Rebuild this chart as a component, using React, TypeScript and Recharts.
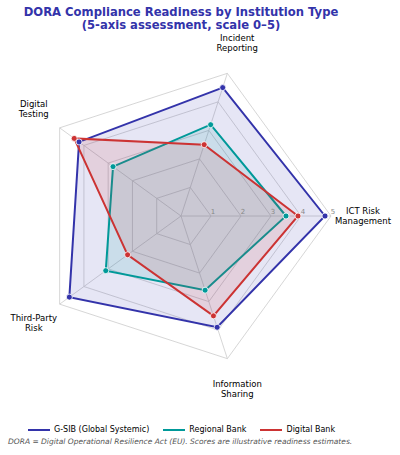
import React from 'react';
import { RadarChart, Radar, PolarGrid, PolarAngleAxis, PolarRadiusAxis } from 'recharts';

const AXES = ['ICT Risk\nManagement', 'Incident\nReporting', 'Digital\nTesting', 'Third-Party\nRisk', 'Information\nSharing'];
const GSIB = [4.8, 4.5, 4.2, 4.6, 3.9];
const REGIONAL = [3.5, 3.2, 2.8, 3.1, 2.6];
const DIGITAL = [3.9, 2.5, 4.4, 2.2, 3.5];
const RADIUS_TICKS = [1, 2, 3, 4, 5];

const SERIES = [
  { key: 'gsib', name: 'G-SIB (Global Systemic)', color: '#3333AA' },
  { key: 'regional', name: 'Regional Bank', color: '#009999' },
  { key: 'digital', name: 'Digital Bank', color: '#CC3333' },
];

const data = AXES.map((axis, i) => ({
  axis,
  gsib: GSIB[i],
  regional: REGIONAL[i],
  digital: DIGITAL[i],
}));

const CX = 181;
const CY = 216;
const FONT = '"DejaVu Sans", sans-serif';
// the radar puts category i at startAngle + 72 * (i + 1) on a full circle,
// so start at -72 to get the first axis pointing east
const START = -72;
const STEP = 360 / AXES.length;

const AngleTick = (props: any) => {
  const { payload } = props;
  const idx = AXES.indexOf(payload.value);
  const a = ((START + STEP * (idx + 1)) * Math.PI) / 180;
  const x = CX + 182 * Math.cos(a);
  const y = CY - 182 * Math.sin(a);
  const lines = String(payload.value).split('\n');
  return (
    <text x={x} y={y} textAnchor="middle" fontSize={8.5} fontFamily={FONT} fill="#000">
      {lines.map((l, i) => (
        <tspan key={i} x={x} y={y + (i - (lines.length - 1) / 2) * 10.5 + 3}>{l}</tspan>
      ))}
    </text>
  );
};

const RadiusTick = (props: any) => {
  const { x, y, payload } = props;
  return (
    <text x={x + 2} y={y - 2} textAnchor="middle" fontSize={7} fontFamily={FONT} fill="#888">
      {payload.value}
    </text>
  );
};

export default function App() {
  return (
    <div style={{ position: 'absolute', left: 0, top: 0, width: 400, height: 455, background: '#fff', fontFamily: FONT }}>
      <div style={{ position: 'absolute', top: 6, left: 0, width: 362, textAlign: 'center', color: '#3333AA', fontWeight: 'bold', fontSize: 11.6, lineHeight: '13px' }}>
        DORA Compliance Readiness by Institution Type
        <br />
        (5-axis assessment, scale 0–5)
      </div>
      <RadarChart
        width={400}
        height={415}
        data={data}
        cx={CX}
        cy={CY}
        outerRadius={150}
        startAngle={START}
        endAngle={START + 360}
        style={{ position: 'absolute', left: 0, top: 0 }}
      >
        <PolarGrid gridType="polygon" stroke="#cccccc" strokeWidth={0.8} />
        <PolarAngleAxis dataKey="axis" tick={<AngleTick />} tickLine={false} axisLine={false} />
        <PolarRadiusAxis
          angle={0}
          domain={[0, 5]}
          ticks={RADIUS_TICKS}
          tick={<RadiusTick />}
          axisLine={false}
          tickLine={false}
        />
        {SERIES.map(s => (
          <Radar
            key={s.key}
            dataKey={s.key}
            name={s.name}
            stroke={s.color}
            strokeWidth={2}
            fill={s.color}
            fillOpacity={0.12}
            dot={{ r: 3, fill: s.color, fillOpacity: 1, stroke: '#fff', strokeWidth: 0.8 }}
            isAnimationActive={false}
          />
        ))}
      </RadarChart>
      <div style={{ position: 'absolute', top: 425, left: 28, display: 'flex', alignItems: 'center', fontSize: 8, color: '#000' }}>
        {SERIES.map((s, i) => (
          <div key={s.key} style={{ display: 'flex', alignItems: 'center', marginRight: i < 2 ? 14 : 0 }}>
            <span style={{ display: 'inline-block', width: 22, height: 2, background: s.color, marginRight: 4 }} />
            <span>{s.name}</span>
          </div>
        ))}
      </div>
      <div style={{ position: 'absolute', top: 437, left: 8, fontSize: 7.5, fontStyle: 'italic', color: '#555' }}>
        DORA = Digital Operational Resilience Act (EU). Scores are illustrative readiness estimates.
      </div>
    </div>
  );
}
